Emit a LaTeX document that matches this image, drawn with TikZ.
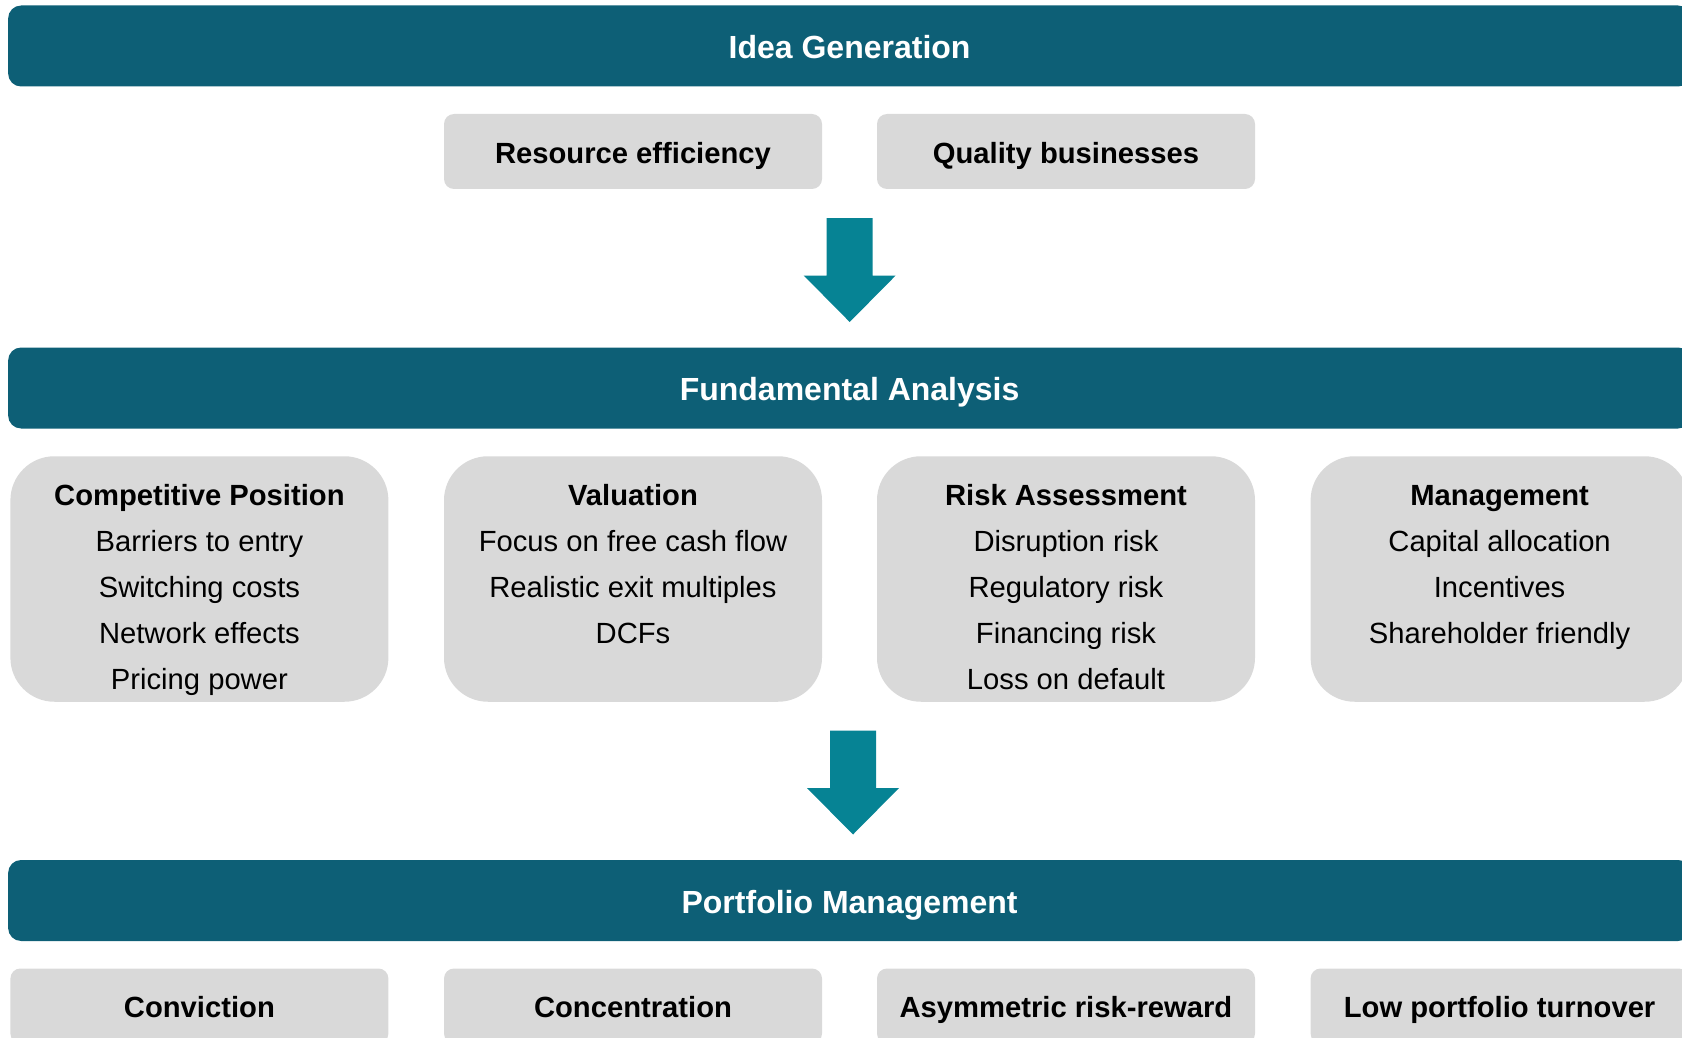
\documentclass[tikz,border=0pt]{standalone}
\usepackage{fontspec}
\setmainfont{Liberation Sans}
\usetikzlibrary{positioning}
\definecolor{bannerBg}{RGB}{13,95,118}
\definecolor{arrowBg}{RGB}{6,131,148}
\definecolor{panelBg}{RGB}{217,217,217}
\tikzset{
bannerstyle/.style={rectangle, rounded corners=13pt, fill=bannerBg, text=white, minimum width=1683pt, minimum height=81pt, inner sep=0pt, font=\fontsize{32}{38}\selectfont\bfseries, text height=25.5pt, text depth=0pt},
tagstyle/.style={rectangle, rounded corners=10pt, fill=panelBg, minimum width=378pt, minimum height=75pt, inner sep=0pt, font=\fontsize{29.2}{35}\selectfont\bfseries, text height=23.5pt, text depth=0pt},
panelstyle/.style={rectangle, rounded corners=44pt, fill=panelBg, minimum width=378pt, minimum height=245.5pt, inner sep=0pt},
linestyle/.style={inner sep=0pt, font=\fontsize{29.2}{35}\selectfont, text height=21pt, text depth=0pt},
headstyle/.style={linestyle, font=\fontsize{29.2}{35}\selectfont\bfseries}
}
% block arrow: centre x, top y
\newcommand{\blockarrow}[2]{
  \fill[arrowBg] (#1-23, #2) -- (#1+23, #2) -- (#1+23, #2+57.5) -- (#1+46, #2+57.5) -- (#1, #2+104) -- (#1-46, #2+57.5) -- (#1-23, #2+57.5) -- cycle;
}
\begin{document}
\begin{tikzpicture}[x=1pt, y=-1pt]
\useasboundingbox (0,0) rectangle (1682,1038);
\clip (0,0) rectangle (1682,1038);

\node [bannerstyle] (idea) at (849.6, 46) {Idea Generation};
\node [tagstyle] (resource) at (633, 151.5) {Resource efficiency};
\node [tagstyle] (quality) at (1066, 151.5) {Quality businesses};

\blockarrow{849.7}{218}

\node [bannerstyle] (fundamental) at (849.6, 388) {Fundamental Analysis};

\node [panelstyle] (competitive) at (199.4, 579) {};
\node [panelstyle] (valuation) at (633, 579) {};
\node [panelstyle] (risk) at (1066, 579) {};
\node [panelstyle] (management) at (1499.6, 579) {};

\node [headstyle] (competitiveHead) at (199.4, 495) {Competitive Position};
\foreach \s [count=\i] in {Barriers to entry, Switching costs, Network effects, Pricing power}
  \node [linestyle] (competitive\i) at (199.4, 495 + 45.9*\i) {\s};

\node [headstyle] (valuationHead) at (633, 495) {Valuation};
\foreach \s [count=\i] in {Focus on free cash flow, Realistic exit multiples, DCFs}
  \node [linestyle] (valuation\i) at (633, 495 + 45.9*\i) {\s};

\node [headstyle] (riskHead) at (1066, 495) {Risk Assessment};
\foreach \s [count=\i] in {Disruption risk, Regulatory risk, Financing risk, Loss on default}
  \node [linestyle] (risk\i) at (1066, 495 + 45.9*\i) {\s};

\node [headstyle] (managementHead) at (1499.6, 495) {Management};
\foreach \s [count=\i] in {Capital allocation, Incentives, Shareholder friendly}
  \node [linestyle] (management\i) at (1499.6, 495 + 45.9*\i) {\s};

\blockarrow{853}{730.5}

\node [bannerstyle] (portfolio) at (849.6, 900.5) {Portfolio Management};
\node [tagstyle] (conviction) at (199.4, 1006) {Conviction};
\node [tagstyle] (concentration) at (633, 1006) {Concentration};
\node [tagstyle] (asymmetric) at (1066, 1006) {Asymmetric risk-reward};
\node [tagstyle] (turnover) at (1499.6, 1006) {Low portfolio turnover};
\end{tikzpicture}
\end{document}
